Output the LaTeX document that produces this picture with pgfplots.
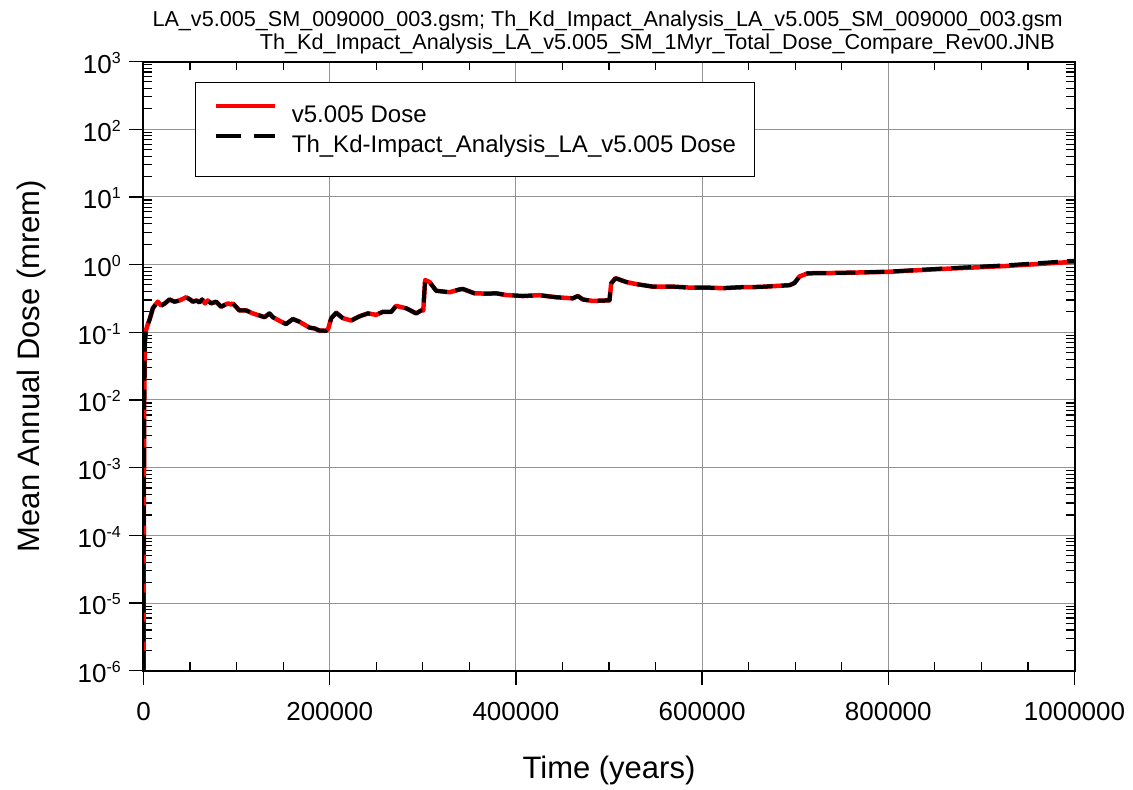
\documentclass[border=0pt]{standalone}
\usepackage{pgfplots}
\usepackage{pgfplotstable}
\pgfplotsset{compat=1.18}
\usepackage{fontspec}
\setmainfont{Liberation Sans}
\newcommand\sups[1]{\raisebox{10pt}{\fontsize{16}{16}\selectfont #1}}

\pgfplotstableread{
x y
0 1e-6
300 1e-4
800 1e-2
1500 0.07
2500 0.105
4000 0.124
6400 0.152
8500 0.19
10000 0.226
13000 0.257
15400 0.283
19000 0.248
23000 0.267
27900 0.305
33300 0.283
38700 0.295
45800 0.329
50000 0.305
53000 0.283
57000 0.295
60000 0.276
63000 0.305
66000 0.267
69000 0.295
72700 0.267
78000 0.283
83400 0.238
88000 0.257
91000 0.267
94000 0.257
96000 0.267
103000 0.21
110300 0.21
117400 0.19
125000 0.176
130000 0.167
135300 0.19
138900 0.167
146000 0.148
153200 0.132
160400 0.157
167600 0.143
178300 0.117
183700 0.114
189000 0.106
196200 0.105
198500 0.114
201600 0.161
207000 0.194
214000 0.162
223100 0.149
232000 0.172
241000 0.19
249900 0.181
257000 0.2
266000 0.2
271400 0.245
282200 0.226
292900 0.19
298300 0.21
300500 0.21
302500 0.59
307200 0.553
314400 0.41
328700 0.39
339400 0.429
343000 0.436
355500 0.376
369800 0.372
378800 0.376
389600 0.355
407400 0.343
425300 0.353
443300 0.329
461100 0.317
466500 0.343
471900 0.305
482600 0.29
497000 0.295
500500 0.295
502400 0.529
507000 0.629
518500 0.553
529200 0.515
547000 0.472
568500 0.472
586500 0.457
604400 0.457
622300 0.448
640200 0.462
661600 0.467
693900 0.496
699200 0.534
704600 0.667
713500 0.743
747600 0.753
799500 0.781
855000 0.858
926600 0.953
1000000 1.1
}\reddata

\pgfplotstableread{
x y
0 1e-6
300 1e-4
800 1e-2
1500 0.07
2500 0.105
4000 0.124
6400 0.152
8500 0.19
10000 0.226
13000 0.257
15400 0.283
19000 0.248
23000 0.267
27900 0.305
33300 0.283
38700 0.295
45800 0.329
50000 0.305
53000 0.283
57000 0.295
60000 0.276
63000 0.305
66000 0.267
69000 0.295
72700 0.267
78000 0.283
83400 0.238
88000 0.257
91000 0.267
94000 0.257
96000 0.267
103000 0.21
110300 0.21
117400 0.19
125000 0.176
130000 0.167
135300 0.19
138900 0.167
146000 0.148
153200 0.132
160400 0.157
167600 0.143
178300 0.117
183700 0.114
189000 0.106
196200 0.105
198500 0.114
201600 0.161
207000 0.194
214000 0.162
223100 0.149
232000 0.172
241000 0.19
249900 0.181
257000 0.2
266000 0.2
271400 0.245
282200 0.226
292900 0.19
298300 0.21
300500 0.21
302500 0.59
307200 0.553
314400 0.41
328700 0.39
339400 0.429
343000 0.436
355500 0.376
369800 0.372
378800 0.376
389600 0.355
407400 0.343
425300 0.353
443300 0.329
461100 0.317
466500 0.343
471900 0.305
482600 0.29
497000 0.295
500500 0.295
502400 0.529
507000 0.629
518500 0.553
529200 0.515
547000 0.472
568500 0.472
586500 0.457
604400 0.457
622300 0.448
640200 0.462
661600 0.467
693900 0.496
699200 0.534
704600 0.667
713500 0.743
747600 0.753
799500 0.785
855000 0.868
926600 0.975
1000000 1.14
}\blackdata

\pgfplotsset{
  myminor/.style={
    minor ytick={2e-6,3e-6,4e-6,5e-6,6e-6,7e-6,8e-6,9e-6,
      2e-5,3e-5,4e-5,5e-5,6e-5,7e-5,8e-5,9e-5,
      2e-4,3e-4,4e-4,5e-4,6e-4,7e-4,8e-4,9e-4,
      2e-3,3e-3,4e-3,5e-3,6e-3,7e-3,8e-3,9e-3,
      2e-2,3e-2,4e-2,5e-2,6e-2,7e-2,8e-2,9e-2,
      0.2,0.3,0.4,0.5,0.6,0.7,0.8,0.9,
      2,3,4,5,6,7,8,9,
      20,30,40,50,60,70,80,90,
      200,300,400,500,600,700,800,900},
    minor xtick={50000,100000,150000,250000,300000,350000,450000,500000,550000,650000,700000,750000,850000,900000,950000},
  }
}

\begin{document}
\begin{tikzpicture}
\useasboundingbox (-143.5pt,-119pt) rectangle (989.5pt,670.7pt);
\begin{axis}[
  name=ax,
  at={(0pt,0pt)}, anchor=south west,
  width=931pt, height=609.2pt, scale only axis,
  xmin=0, xmax=1000000,
  ymode=log, log basis y=10,
  ymin=1e-6, ymax=1e3,
  xtick={0,200000,400000,600000,800000,1000000},
  xticklabels={0,200000,400000,600000,800000,1000000},
  scaled x ticks=false,
  myminor,
  ytick={1e-6,1e-5,1e-4,1e-3,1e-2,1e-1,1,10,100,1000},
  yticklabels={10\sups{-6},10\sups{-5},10\sups{-4},10\sups{-3},10\sups{-2},10\sups{-1},10\sups{0},10\sups{1},10\sups{2},10\sups{3}},
  xtick pos=left, ytick pos=left,
  tick align=inside,
  major tick length=-14pt,
  minor tick length=9pt,
  major tick style={line width=1.3pt, black},
  minor tick style={line width=1.1pt, black},
  grid=major,
  major grid style={line width=1pt, black!42},
  minor grid style={draw=none},
  axis line style={line width=2pt},
  ticklabel style={font=\fontsize{26}{30}\selectfont},
  xticklabel style={anchor=north, inner sep=0pt, yshift=-31pt},
  yticklabel style={anchor=east, inner sep=0pt, xshift=-22.5pt, yshift=-1.5pt},
  xlabel={Time (years)},
  ylabel={Mean Annual Dose (mrem)},
  label style={font=\fontsize{31}{36}\selectfont},
  xlabel style={at={(axis description cs:0.5,0)}, anchor=base, yshift=-108pt},
  ylabel style={at={(axis description cs:-0.1112,0.5)}, anchor=base, rotate=0},
  legend cell align=left,
  legend image code/.code={\draw[#1] (0pt,8.4pt) -- (59pt,8.4pt);},
  legend style={at={(axis description cs:0.0551,0.9668)}, anchor=north west,
    draw=black, line width=1.2pt, fill=white,
    inner xsep=18pt, inner ysep=20pt, row sep=6pt, column sep=0pt,
    font=\fontsize{24}{28}\selectfont,
    nodes={inner xsep=0pt, inner ysep=0pt, text height=20pt, text depth=4pt}},
]
\addplot[draw={rgb,255:red,255;green,0;blue,0}, line width=4.5pt, line join=round] table[x=x,y=y] {\reddata};
\addlegendentry{\hspace{15pt}v5.005 Dose}
\addplot[draw=black, line width=4pt, line join=round, dash pattern=on 20pt off 9pt,
  legend image post style={dash pattern=on 25pt off 13pt}] table[x=x,y=y] {\blackdata};
\addlegendentry{\hspace{15pt}Th\_Kd-Impact\_Analysis\_LA\_v5.005 Dose}
\end{axis}
\begin{axis}[
  at={(0pt,0pt)}, anchor=south west,
  width=931pt, height=609.2pt, scale only axis,
  xmin=0, xmax=1000000,
  ymode=log, log basis y=10,
  ymin=1e-6, ymax=1e3,
  xtick={0,200000,400000,600000,800000,1000000},
  ytick={1e-6,1e-5,1e-4,1e-3,1e-2,1e-1,1,10,100,1000},
  myminor,
  scaled x ticks=false,
  xticklabels={}, yticklabels={},
  xtick pos=right, ytick pos=right,
  tick align=inside,
  major tick length=0pt,
  minor tick length=9pt,
  minor tick style={line width=1.1pt, black},
  axis line style={line width=2pt},
]
\end{axis}
\node[anchor=base east, inner sep=0pt, font=\fontsize{21.6}{24}\selectfont] at ([xshift=-11.5pt,yshift=34.8pt]ax.north east) {LA\_v5.005\_SM\_009000\_003.gsm; Th\_Kd\_Impact\_Analysis\_LA\_v5.005\_SM\_009000\_003.gsm};
\node[anchor=base east, inner sep=0pt, font=\fontsize{21.6}{24}\selectfont] at ([xshift=-19.5pt,yshift=11.5pt]ax.north east) {Th\_Kd\_Impact\_Analysis\_LA\_v5.005\_SM\_1Myr\_Total\_Dose\_Compare\_Rev00.JNB};
\end{tikzpicture}
\end{document}
